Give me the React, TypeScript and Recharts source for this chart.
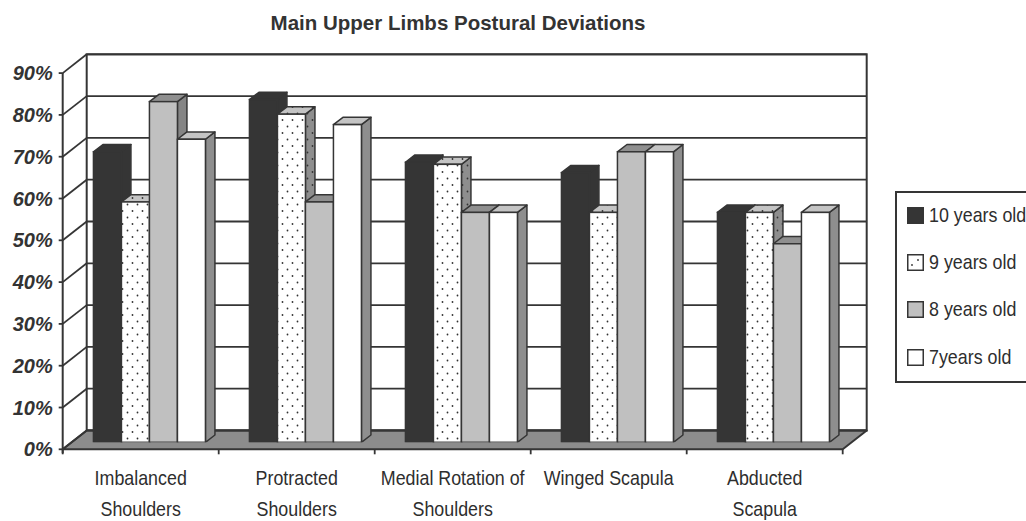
import React from 'react';
import { BarChart, Bar, XAxis, YAxis, CartesianGrid, Legend } from 'recharts';

// ---------- data ----------
const categories = [
  'Imbalanced Shoulders',
  'Protracted Shoulders',
  'Medial Rotation of Shoulders',
  'Winged Scapula',
  'Abducted Scapula',
];
const categoryLines: string[][] = [
  ['Imbalanced', 'Shoulders'],
  ['Protracted', 'Shoulders'],
  ['Medial Rotation of', 'Shoulders'],
  ['Winged Scapula'],
  ['Abducted', 'Scapula'],
];
const age10 = [69.5, 82, 67, 64.5, 55];
const age9 = [57.5, 78.5, 66.5, 55, 55];
const age8 = [81.5, 57.5, 55, 69.5, 47.5];
const age7 = [72.5, 76, 55, 69.5, 55];
const seriesNames = ['10 years old', '9 years old', '8 years old', '7years old'];
const seriesKeys = ['a10', 'a9', 'a8', 'a7'];
const yTicks = [0, 10, 20, 30, 40, 50, 60, 70, 80, 90];
const chartTitle = 'Main Upper Limbs Postural Deviations';

const data = categories.map((c, i) => ({
  name: c,
  a10: age10[i],
  a9: age9[i],
  a8: age8[i],
  a7: age7[i],
}));

// ---------- styling / geometry ----------
const W = 1026;
const H = 521;
const BACK = { x: 15.1, y: -11.8 };
const FRONT = { x: -8.9, y: 7 };
const BAR_D = { x: 9.5, y: -7.3 };
const LINE = '#353535';
const FONT = '"Liberation Sans", Arial, Helvetica, sans-serif';

const seriesStyle: Record<string, { front: string; top: string; side: string; swatch: string }> = {
  a10: { front: '#353535', top: '#353535', side: '#353535', swatch: '#353535' },
  a9: { front: 'url(#dotsW)', top: 'url(#dotsL)', side: 'url(#dotsG)', swatch: '#ffffff' },
  a8: { front: '#c0c0c0', top: '#8f8f8f', side: '#858585', swatch: '#c0c0c0' },
  a7: { front: '#ffffff', top: '#c4c4c4', side: '#8e8e8e', swatch: '#ffffff' },
};

const make3DBar = (key: string) => (p: any) => {
  const { x, y, width: w, height: h } = p;
  if (x == null || y == null || !w || h == null) return <g />;
  const st = seriesStyle[key];
  const dx = BAR_D.x;
  const dy = BAR_D.y;
  return (
    <g>
      <polygon
        points={`${x + w},${y} ${x + w + dx},${y + dy} ${x + w + dx},${y + h + dy} ${x + w},${y + h}`}
        fill={st.side}
        stroke={LINE}
        strokeWidth={1.5}
        strokeLinejoin="round"
      />
      <polygon
        points={`${x},${y} ${x + dx},${y + dy} ${x + w + dx},${y + dy} ${x + w},${y}`}
        fill={st.top}
        stroke={LINE}
        strokeWidth={1.5}
        strokeLinejoin="round"
      />
      <rect x={x} y={y} width={w} height={h} fill={st.front} stroke={LINE} strokeWidth={1.5} />
    </g>
  );
};

const Frame = ({ x, y, width, height, n }: any) => {
  const y0 = y + height;
  const ticks = [];
  for (let i = 0; i <= n; i++) {
    const tx = x + FRONT.x + (i * width) / n;
    ticks.push(
      <line key={`bt${i}`} x1={tx} y1={y0 + FRONT.y} x2={tx} y2={y0 + FRONT.y + 5} stroke={LINE} strokeWidth={1.8} />
    );
  }
  return (
    <g>
      <defs>
        <pattern id="dotsW" patternUnits="userSpaceOnUse" width="10" height="13">
          <rect width="10" height="13" fill="#ffffff" />
          <circle cx="2.5" cy="3" r="0.9" fill="#333" />
          <circle cx="7.5" cy="9.5" r="0.9" fill="#333" />
        </pattern>
        <pattern id="dotsL" patternUnits="userSpaceOnUse" width="10" height="13">
          <rect width="10" height="13" fill="#c4c4c4" />
          <circle cx="2.5" cy="3" r="0.9" fill="#333" />
          <circle cx="7.5" cy="9.5" r="0.9" fill="#333" />
        </pattern>
        <pattern id="dotsG" patternUnits="userSpaceOnUse" width="10" height="13">
          <rect width="10" height="13" fill="#8e8e8e" />
          <circle cx="2.5" cy="3" r="0.9" fill="#333" />
          <circle cx="7.5" cy="9.5" r="0.9" fill="#333" />
        </pattern>
      </defs>
      {/* back wall */}
      <rect x={x + BACK.x} y={y + BACK.y} width={width} height={height} fill="#fff" stroke={LINE} strokeWidth={2} />
      {/* front vertical axis */}
      <line x1={x + FRONT.x} y1={y + FRONT.y} x2={x + FRONT.x} y2={y0 + FRONT.y + 4} stroke={LINE} strokeWidth={2} />
      {/* floor */}
      <polygon
        points={`${x + FRONT.x},${y0 + FRONT.y} ${x + BACK.x},${y0 + BACK.y} ${x + width + BACK.x},${y0 + BACK.y} ${x + width + FRONT.x},${y0 + FRONT.y}`}
        fill="#8c8c8c"
        stroke={LINE}
        strokeWidth={2}
        strokeLinejoin="round"
      />
      {ticks}
    </g>
  );
};

const renderGridLine = (p: any) => {
  const { x, y, width, height, y1, index } = p;
  const xbL = x + BACK.x;
  const xbR = x + width + BACK.x;
  const yb = y1 + BACK.y;
  const xf = x + FRONT.x;
  const yf = y1 + FRONT.y;
  return (
    <g key={`grid-${index}`}>
      {index === 0 && <Frame x={x} y={y} width={width} height={height} n={categories.length} />}
      <line x1={xbL} y1={yb} x2={xbR} y2={yb} stroke={LINE} strokeWidth={1.8} />
      <line x1={xf} y1={yf} x2={xbL} y2={yb} stroke={LINE} strokeWidth={1.8} />
    </g>
  );
};

const YTick = (p: any) => {
  const { x, y, payload } = p;
  const fx = x + FRONT.x;
  const fy = y + FRONT.y;
  return (
    <g>
      <line x1={fx - 4} y1={fy} x2={fx} y2={fy} stroke={LINE} strokeWidth={1.8} />
      <text
        x={fx - 10}
        y={fy + 7}
        textAnchor="end"
        fontFamily={FONT}
        fontSize={20}
        fontWeight="bold"
        fontStyle="italic"
        fill="#333"
      >
        {`${payload.value}%`}
      </text>
    </g>
  );
};

const XTick = (p: any) => {
  const { x, y, index } = p;
  const lines = categoryLines[index] || [String(p.payload?.value ?? '')];
  const cx = x + FRONT.x;
  return (
    <g>
      {lines.map((t, i) => (
        <text
          key={i}
          transform={`translate(${cx},${y + 42.5 + i * 31}) scale(0.85,1)`}
          textAnchor="middle"
          fontFamily={FONT}
          fontSize={21}
          fill="#2e2e2e"
        >
          {t}
        </text>
      ))}
    </g>
  );
};

const LegendBox = (p: any) => {
  const raw: any[] = p.payload || [];
  const payload = seriesKeys
    .map((k) => raw.find((e: any) => String(e.dataKey) === k))
    .filter(Boolean);
  return (
    <div
      style={{
        width: 140,
        height: 192,
        border: `2px solid ${LINE}`,
        boxSizing: 'border-box',
        background: '#fff',
        position: 'relative',
        fontFamily: FONT,
      }}
    >
      {payload.map((e: any, i: number) => {
        const key = String(e.dataKey);
        const st = seriesStyle[key] || seriesStyle.a7;
        return (
          <div key={key} style={{ position: 'absolute', left: 10, top: 14 + i * 47.2, height: 17, whiteSpace: 'nowrap' }}>
            <svg width={17} height={17} style={{ position: 'absolute', left: 0, top: 0 }}>
              <rect x={0.75} y={0.75} width={15.5} height={15.5} fill={st.swatch} stroke={LINE} strokeWidth={1.5} />
              {key === 'a9' && (
                <g fill="#333">
                  <circle cx={5} cy={11} r={0.9} />
                  <circle cx={11} cy={6} r={0.9} />
                </g>
              )}
            </svg>
            <span
              style={{
                position: 'absolute',
                left: 22,
                top: -3,
                fontSize: 21,
                lineHeight: '22px',
                color: '#2e2e2e',
                transform: 'scaleX(0.85)',
                transformOrigin: 'left center',
                display: 'inline-block',
              }}
            >
              {e.value}
            </span>
          </div>
        );
      })}
    </div>
  );
};

export default function App() {
  return (
    <div
      style={{
        position: 'absolute',
        left: 0,
        top: 0,
        width: W,
        height: H,
        overflow: 'hidden',
        background: '#fff',
      }}
    >
      <svg width={W} height={40} style={{ position: 'absolute', left: 0, top: 0 }}>
        <text x={458} y={30} textAnchor="middle" fontFamily={FONT} fontSize={20.5} fontWeight="bold" fill="#333">
          {chartTitle}
        </text>
      </svg>
      <div style={{ position: 'absolute', left: 0, top: 0 }}>
        <BarChart
          width={W}
          height={H}
          data={data}
          margin={{ top: 66.1, right: 174.4, bottom: 0, left: 0 }}
          barCategoryGap="14%"
          barGap={0}
        >
          <CartesianGrid vertical={false} horizontal={renderGridLine} />
          <XAxis
            dataKey="name"
            height={78.7}
            tickSize={0}
            tickMargin={0}
            axisLine={false}
            tickLine={false}
            interval={0}
            tick={<XTick />}
          />
          <YAxis
            type="number"
            domain={[0, 90]}
            ticks={yTicks}
            width={71.6}
            tickSize={0}
            tickMargin={0}
            axisLine={false}
            tickLine={false}
            tick={<YTick />}
            allowDataOverflow
          />
          <Legend
            layout="vertical"
            align="center"
            verticalAlign="middle"
            itemSorter={null as any}
            wrapperStyle={{ left: 895, top: 191, width: 140, height: 192 }}
            content={<LegendBox />}
          />
          {seriesKeys.map((k, i) => (
            <Bar
              key={k}
              dataKey={k}
              name={seriesNames[i]}
              fill={seriesStyle[k].swatch}
              shape={make3DBar(k)}
              isAnimationActive={false}
            />
          ))}
        </BarChart>
      </div>
    </div>
  );
}
